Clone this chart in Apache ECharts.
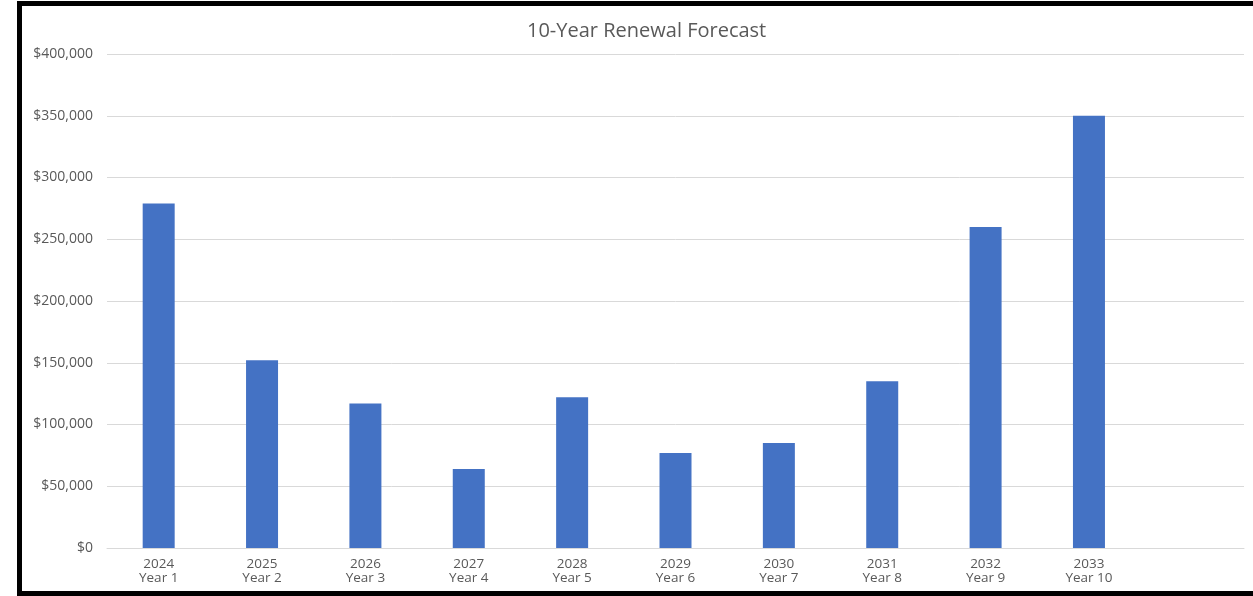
<!DOCTYPE html>
<html>
<head>
<meta charset="utf-8">
<script src="https://cdn.jsdelivr.net/npm/echarts@6/dist/echarts.min.js"></script>
<style>
  html, body { margin: 0; padding: 0; background: #fff; overflow: hidden; }
  #frame { position: absolute; left: 17px; top: 1px; width: 1250px; height: 585px;
           border-left: 5px solid #000; border-top: 5px solid #000; border-bottom: 5px solid #000; background:#fff; }
  #chart { position: absolute; left: 0; top: 0; width: 1231px; height: 585px; }
</style>
</head>
<body>
<div id="frame"><div id="chart"></div></div>
<script>
const titleText = '10-Year Renewal Forecast';
const years = ['2024', '2025', '2026', '2027', '2028', '2029', '2030', '2031', '2032', '2033', ''];
const yearLabels = ['Year 1', 'Year 2', 'Year 3', 'Year 4', 'Year 5', 'Year 6', 'Year 7', 'Year 8', 'Year 9', 'Year 10', ''];
const renewalCost = [279000, 152000, 117000, 64000, 122000, 77000, 85000, 135000, 260000, 350000];
const yMin = 0, yMax = 400000, yStep = 50000;

const categories = years.map((y, i) => y ? y + '\n' + yearLabels[i] : '');

const chart = echarts.init(document.getElementById('chart'));
chart.setOption({
  animation: false,
  backgroundColor: '#fff',
  title: {
    text: titleText,
    left: 500,
    top: 10,
    textStyle: { fontFamily: 'Open Sans', fontSize: 20, fontWeight: 'normal', color: '#595959' }
  },
  grid: { left: 85, right: 9, top: 48, bottom: 43, containLabel: false },
  xAxis: {
    type: 'category',
    data: categories,
    axisLine: { show: true, lineStyle: { color: '#D9D9D9', width: 1 } },
    axisTick: { show: false },
    axisLabel: { interval: 0, color: '#595959', fontFamily: 'Open Sans', fontSize: 13.5, lineHeight: 14, margin: 9 }
  },
  yAxis: {
    type: 'value',
    min: yMin, max: yMax, interval: yStep,
    axisLine: { show: false },
    axisTick: { show: false },
    splitLine: { lineStyle: { color: '#D9D9D9', width: 1 } },
    axisLabel: {
      color: '#595959', fontFamily: 'Open Sans', fontSize: 14, margin: 14,
      formatter: v => '$' + v.toLocaleString('en-US')
    }
  },
  series: [{
    type: 'bar',
    data: renewalCost,
    barWidth: 32,
    itemStyle: { color: '#4472C4' }
  }]
});
</script>
</body>
</html>
